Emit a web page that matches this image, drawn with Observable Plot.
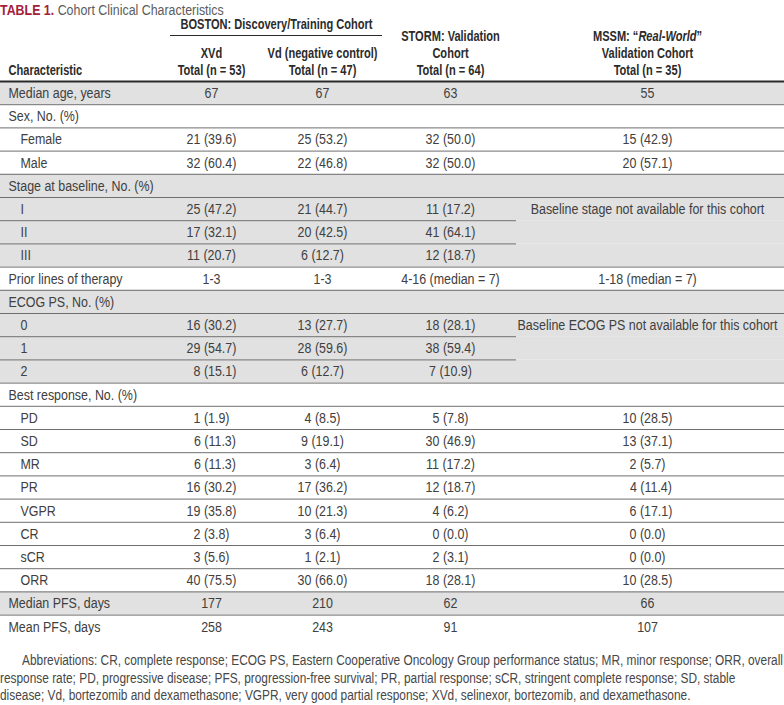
<!DOCTYPE html>
<html>
<head>
<meta charset="utf-8">
<script src="https://cdn.jsdelivr.net/npm/d3@7"></script>
<script src="https://cdn.jsdelivr.net/npm/@observablehq/plot@0.6"></script>
<style>
  html, body { margin: 0; padding: 0; background: #fff; }
  body { width: 784px; font-family: "Liberation Sans", Arial, sans-serif; overflow: hidden; }
  #title { height: 16px; line-height: 20px; font-size: 15.5px; white-space: nowrap; }
  #title .inner { display: inline-block; transform: scaleX(0.8); transform-origin: 0 50%; }
  #title .num { color: #a3203a; font-weight: bold; }
  #title .name { color: #5c5c5c; }
  #chart svg { display: block; overflow: visible; }
  #foot { margin-top: 9px; color: #474747; font-size: 14px; line-height: 17.5px; }
  #foot div { white-space: nowrap; }
  #foot span { display: inline-block; transform-origin: 0 50%; }
  #foot .first { padding-left: 22px; }
</style>
</head>
<body>
<div id="title"><span class="inner"><span class="num">TABLE 1.</span> <span class="name">Cohort Clinical Characteristics</span></span></div>
<div id="chart"></div>
<div id="foot">
  <div class="first"><span>Abbreviations: CR, complete response; ECOG PS, Eastern Cooperative Oncology Group performance status; MR, minor response; ORR, overall</span></div>
  <div><span>response rate; PD, progressive disease; PFS, progression-free survival; PR, partial response; sCR, stringent complete response; SD, stable</span></div>
  <div><span>disease; Vd, bortezomib and dexamethasone; VGPR, very good partial response; XVd, selinexor, bortezomib, and dexamethasone.</span></div>
</div>
<script>
// ---------- data ----------
const characteristics = [
  "Median age, years", "Sex, No. (%)", "Female", "Male",
  "Stage at baseline, No. (%)", "I", "II", "III",
  "Prior lines of therapy", "ECOG PS, No. (%)", "0", "1", "2",
  "Best response, No. (%)", "PD", "SD", "MR", "PR", "VGPR", "CR", "sCR", "ORR",
  "Median PFS, days", "Mean PFS, days"
];
const xvdValues = ["67", "", "21 (39.6)", "32 (60.4)", "", "25 (47.2)", "17 (32.1)", "11 (20.7)",
  "1-3", "", "16 (30.2)", "29 (54.7)", "\u20078 (15.1)", "", "1 (1.9)", "\u20076 (11.3)", "\u20076 (11.3)",
  "16 (30.2)", "19 (35.8)", "2 (3.8)", "3 (5.6)", "40 (75.5)", "177", "258"];
const vdValues = ["67", "", "25 (53.2)", "22 (46.8)", "", "21 (44.7)", "20 (42.5)", "6 (12.7)",
  "1-3", "", "13 (27.7)", "28 (59.6)", "6 (12.7)", "", "4 (8.5)", "9 (19.1)", "3 (6.4)",
  "17 (36.2)", "10 (21.3)", "3 (6.4)", "1 (2.1)", "30 (66.0)", "210", "243"];
const stormValues = ["63", "", "32 (50.0)", "32 (50.0)", "", "11 (17.2)", "41 (64.1)", "12 (18.7)",
  "4-16 (median = 7)", "", "18 (28.1)", "38 (59.4)", "7 (10.9)", "", "5 (7.8)", "30 (46.9)", "11 (17.2)",
  "12 (18.7)", "4 (6.2)", "0 (0.0)", "2 (3.1)", "18 (28.1)", "62", "91"];
const mssmValues = ["55", "", "15 (42.9)", "20 (57.1)", "", "Baseline stage not available for this cohort", "", "",
  "1-18 (median = 7)", "", "Baseline ECOG PS not available for this cohort", "", "", "", "10 (28.5)", "13 (37.1)", "2 (5.7)",
  "\u20074 (11.4)", "\u20076 (17.1)", "0 (0.0)", "0 (0.0)", "10 (28.5)", "66", "107"];
const subRows = [2, 3, 5, 6, 7, 10, 11, 12, 14, 15, 16, 17, 18, 19, 20, 21];
const shadedRows = [0, 4, 5, 6, 7, 9, 10, 11, 12, 22];
const mergedBoundaries = [6, 7, 11, 12]; // row tops inside the merged MSSM cells

const headerTexts = [
  {text: "BOSTON: Discovery/Training Cohort", col: "boston", line: "top"},
  {text: "XVd", col: 0, line: 1},
  {text: "Total (n = 53)", col: 0, line: 2},
  {text: "Vd (negative control)", col: 1, line: 1},
  {text: "Total (n = 47)", col: 1, line: 2},
  {text: "STORM: Validation", col: 2, line: 0},
  {text: "Cohort", col: 2, line: 1},
  {text: "Total (n = 64)", col: 2, line: 2},
  {text: "MSSM: \u201cReal-World\u201d", col: 3, line: 0},
  {text: "Validation Cohort", col: 3, line: 1},
  {text: "Total (n = 35)", col: 3, line: 2},
  {text: "Characteristic", col: "label", line: 2}
];

// ---------- layout ----------
const W = 784, H = 627;
const rowH = 23.2, bodyTop = 65;               // svg px
const colX = [211, 322, 450, 647];
const labelX = 8, indentX = 20, mergeEnd = 516;
const boston = {x1: 170, x2: 382, ruleY: 19};
const headerLineY = {0: 20, 1: 37, 2: 54, top: 8};
const bodyScale = 0.83, headScale = 0.79;
const FONT = '"Liberation Sans", Arial, sans-serif';
const toRow = (px) => (px - bodyTop) / rowH;

const rows = characteristics.map((label, i) => ({
  i, label,
  indent: subRows.includes(i),
  values: [xvdValues[i], vdValues[i], stormValues[i], mssmValues[i]]
}));
const shaded = rows.filter(d => shadedRows.includes(d.i));
const boundaries = d3.range(1, characteristics.length).map(i => ({
  y: i, x2: mergedBoundaries.includes(i) ? mergeEnd : W
}));
const headers = headerTexts.map(d => ({
  ...d,
  x: d.col === "boston" ? (boston.x1 + boston.x2) / 2 : d.col === "label" ? labelX : colX[d.col],
  y: toRow(headerLineY[d.line]),
  anchor: d.col === "label" ? "start" : "middle"
}));

const valueMarks = colX.map((cx, c) =>
  Plot.text(rows, {x: cx, y: d => d.i + 0.5, text: d => d.values[c], textAnchor: "middle",
    fill: "#404040", fontSize: 15})
);

const chart = Plot.plot({
  width: W, height: H,
  margin: 0,
  x: {domain: [0, W], range: [0, W], axis: null},
  y: {domain: [toRow(0), toRow(H)], range: [0, H], axis: null},
  style: {fontFamily: FONT, fontSize: "15px", color: "#404040", background: "#fff", overflow: "visible"},
  marks: [
    Plot.rect(shaded, {x1: 0, x2: W, y1: "i", y2: d => d.i + 1, fill: "#e1e1e1"}),
    Plot.ruleY(boundaries, {y: "y", x1: 0, x2: "x2", stroke: "#6f6f6f", strokeWidth: 1}),
    Plot.ruleY([0], {x1: 0, x2: W, stroke: "#2a2a2a", strokeWidth: 2}),
    Plot.ruleY([toRow(boston.ruleY)], {x1: boston.x1, x2: boston.x2, stroke: "#2a2a2a", strokeWidth: 1}),
    Plot.text(rows, {x: d => d.indent ? indentX : labelX, y: d => d.i + 0.5, text: "label",
      textAnchor: "start", fill: "#404040", fontSize: 15}),
    ...valueMarks,
    Plot.text(headers, {x: "x", y: "y", text: "text", textAnchor: "start", fontWeight: "bold",
      fill: "#2b2b2b", fontSize: 14, filter: d => d.anchor === "start"}),
    Plot.text(headers, {x: "x", y: "y", text: "text", textAnchor: "middle", fontWeight: "bold",
      fill: "#2b2b2b", fontSize: 14, filter: d => d.anchor === "middle"})
  ]
});
document.getElementById("chart").appendChild(chart);

// condensed look: squeeze glyphs horizontally about each text's anchor point
d3.select(chart).selectAll("text").each(function () {
  const bold = getComputedStyle(this).fontWeight;
  const s = (bold === "bold" || +bold >= 600) ? headScale : bodyScale;
  const tr = this.getAttribute("transform") || "";
  this.setAttribute("transform", `${tr} scale(${s},1)`);
  if (this.textContent === "MSSM: \u201cReal-World\u201d") {
    const t = d3.select(this);
    t.text(null);
    t.append("tspan").text("MSSM: \u201c");
    t.append("tspan").attr("font-style", "italic").text("Real-World");
    t.append("tspan").text("\u201d");
  }
});

// footnote: one common horizontal squeeze, fitted to the first line's width in the reference
const footSpans = document.querySelectorAll("#foot span");
const footScale = 761 / footSpans[0].getBoundingClientRect().width;
footSpans.forEach(el => { el.style.transform = `scaleX(${footScale})`; });
</script>
</body>
</html>
